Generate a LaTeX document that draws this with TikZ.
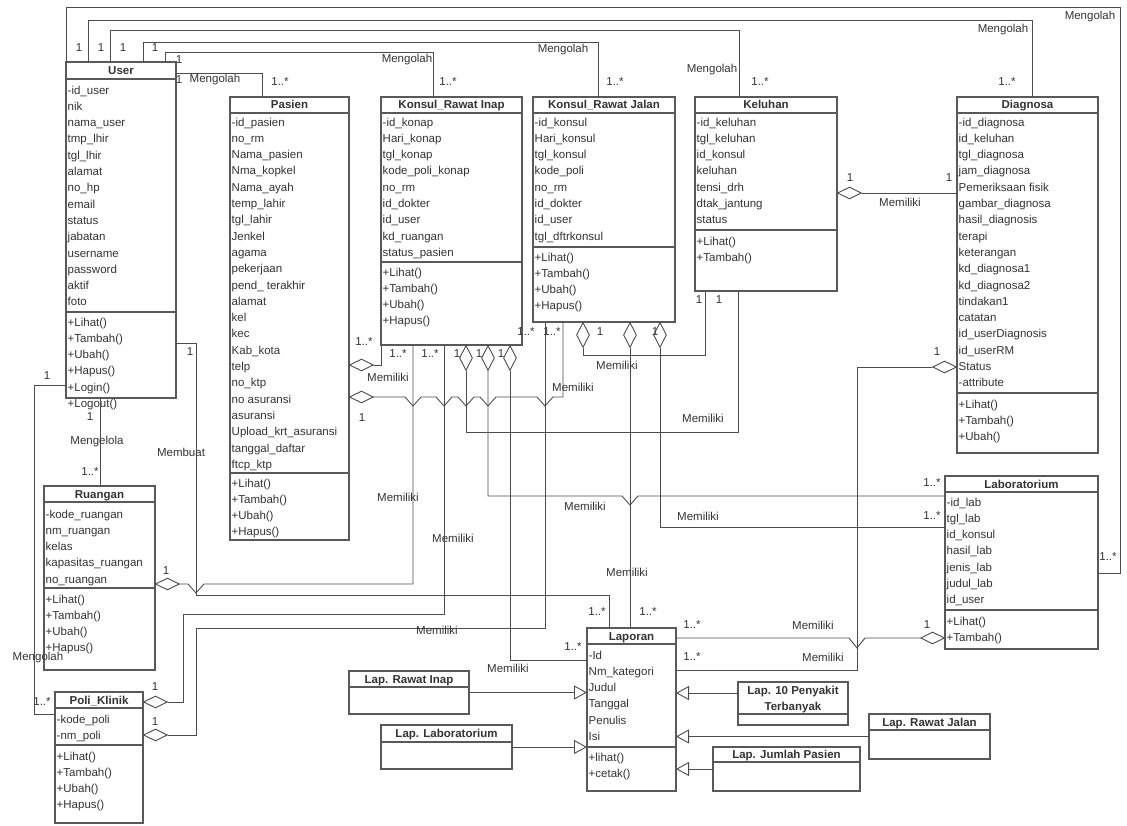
\documentclass[tikz,border=0pt]{standalone}
\usepackage{fontspec}
\setmainfont{Liberation Sans}
\usetikzlibrary{shapes.geometric,arrows.meta}

\begin{document}
\begin{tikzpicture}[x=1pt,y=-1pt,
    every node/.style={text=black!80},
    cls/.style={draw=black!65,line width=1.2pt,anchor=north west,inner sep=0,outer sep=0},
    sep/.style={draw=black!65,line width=1.2pt},
    ttl/.style={font=\fontsize{11.5}{14}\selectfont\bfseries,anchor=base,inner sep=0},
    attr/.style={font=\fontsize{11.5}{16.3}\selectfont,align=left,anchor=north west,inner sep=0},
    lbl/.style={font=\fontsize{11.5}{14}\selectfont,inner sep=0},
    assoc/.style={draw=black!70,line width=0.9pt},
    aggh/.style={diamond,draw=black!70,line width=0.9pt,fill=white,minimum width=24,minimum height=12,inner sep=0},
    aggv/.style={diamond,draw=black!70,line width=0.9pt,fill=white,minimum width=13,minimum height=25,inner sep=0,anchor=north},
    gen/.style={assoc,-{Triangle[open,length=13pt,width=14pt]}}]
    \useasboundingbox (0,0) rectangle (1127,826);

    % classes
    \node[cls,minimum width=110,minimum height=336] (user) at (66,62) {};
    \draw[sep] (user.west |- 0,79) -- (user.east |- 0,79);
    \draw[sep] (user.west |- 0,312) -- (user.east |- 0,312);
    \node[ttl] (userT) at (121,74.5) {User};
    \node[attr] (userA) at (67.5,85.5) {-id\_user\\nik\\nama\_user\\tmp\_lhir\\tgl\_lhir\\alamat\\no\_hp\\email\\status\\jabatan\\username\\password\\aktif\\foto};
    \node[attr] (userM) at (67.5,317.5) {+Lihat()\\+Tambah()\\+Ubah()\\+Hapus()\\+Login()\\+Logout()};

    \node[cls,minimum width=119,minimum height=443] (pasien) at (230,97) {};
    \draw[sep] (pasien.west |- 0,113) -- (pasien.east |- 0,113);
    \draw[sep] (pasien.west |- 0,473) -- (pasien.east |- 0,473);
    \node[ttl] (pasienT) at (289.5,109) {Pasien};
    \node[attr] (pasienA) at (231.5,117.5) {-id\_pasien\\no\_rm\\Nama\_pasien\\Nma\_kopkel\\Nama\_ayah\\temp\_lahir\\tgl\_lahir\\Jenkel\\agama\\pekerjaan\\pend\_ terakhir\\alamat\\kel\\kec\\Kab\_kota\\telp\\no\_ktp\\no asuransi\\asuransi\\Upload\_krt\_asuransi\\tanggal\_daftar\\ftcp\_ktp};
    \node[attr] (pasienM) at (231.5,478.5) {+Lihat()\\+Tambah()\\+Ubah()\\+Hapus()};

    \node[cls,minimum width=141,minimum height=248] (krinap) at (381,97) {};
    \draw[sep] (krinap.west |- 0,113) -- (krinap.east |- 0,113);
    \draw[sep] (krinap.west |- 0,262) -- (krinap.east |- 0,262);
    \node[ttl] (krinapT) at (451.5,109) {Konsul\_Rawat Inap};
    \node[attr] (krinapA) at (382.5,117.5) {-id\_konap\\Hari\_konap\\tgl\_konap\\kode\_poli\_konap\\no\_rm\\id\_dokter\\id\_user\\kd\_ruangan\\status\_pasien};
    \node[attr] (krinapM) at (382.5,267.5) {+Lihat()\\+Tambah()\\+Ubah()\\+Hapus()};

    \node[cls,minimum width=142,minimum height=225] (krjalan) at (533,97) {};
    \draw[sep] (krjalan.west |- 0,113) -- (krjalan.east |- 0,113);
    \draw[sep] (krjalan.west |- 0,247) -- (krjalan.east |- 0,247);
    \node[ttl] (krjalanT) at (604,109) {Konsul\_Rawat Jalan};
    \node[attr] (krjalanA) at (534.5,117.5) {-id\_konsul\\Hari\_konsul\\tgl\_konsul\\kode\_poli\\no\_rm\\id\_dokter\\id\_user\\tgl\_dftrkonsul};
    \node[attr] (krjalanM) at (534.5,252.5) {+Lihat()\\+Tambah()\\+Ubah()\\+Hapus()};

    \node[cls,minimum width=142,minimum height=194] (keluhan) at (695,97) {};
    \draw[sep] (keluhan.west |- 0,113) -- (keluhan.east |- 0,113);
    \draw[sep] (keluhan.west |- 0,230) -- (keluhan.east |- 0,230);
    \node[ttl] (keluhanT) at (766,109) {Keluhan};
    \node[attr] (keluhanA) at (696.5,117.5) {-id\_keluhan\\tgl\_keluhan\\id\_konsul\\keluhan\\tensi\_drh\\dtak\_jantung\\status};
    \node[attr] (keluhanM) at (696.5,236.5) {+Lihat()\\+Tambah()};

    \node[cls,minimum width=141,minimum height=356] (diagnosa) at (957,97) {};
    \draw[sep] (diagnosa.west |- 0,113) -- (diagnosa.east |- 0,113);
    \draw[sep] (diagnosa.west |- 0,393) -- (diagnosa.east |- 0,393);
    \node[ttl] (diagnosaT) at (1027.5,109) {Diagnosa};
    \node[attr] (diagnosaA) at (958.5,117.5) {-id\_diagnosa\\id\_keluhan\\tgl\_diagnosa\\jam\_diagnosa\\Pemeriksaan fisik\\gambar\_diagnosa\\hasil\_diagnosis\\terapi\\keterangan\\kd\_diagnosa1\\kd\_diagnosa2\\tindakan1\\catatan\\id\_userDiagnosis\\id\_userRM\\Status\\-attribute};
    \node[attr] (diagnosaM) at (958.5,399.5) {+Lihat()\\+Tambah()\\+Ubah()};

    \node[cls,minimum width=153,minimum height=173] (lab) at (945,476) {};
    \draw[sep] (lab.west |- 0,492) -- (lab.east |- 0,492);
    \draw[sep] (lab.west |- 0,610) -- (lab.east |- 0,610);
    \node[ttl] (labT) at (1021.5,488) {Laboratorium};
    \node[attr] (labA) at (946.5,497.5) {-id\_lab\\tgl\_lab\\id\_konsul\\hasil\_lab\\jenis\_lab\\judul\_lab\\id\_user};
    \node[attr] (labM) at (946.5,616.5) {+Lihat()\\+Tambah()};

    \node[cls,minimum width=111,minimum height=184] (ruangan) at (44,486) {};
    \draw[sep] (ruangan.west |- 0,502) -- (ruangan.east |- 0,502);
    \draw[sep] (ruangan.west |- 0,588) -- (ruangan.east |- 0,588);
    \node[ttl] (ruanganT) at (99.5,498) {Ruangan};
    \node[attr] (ruanganA) at (45.5,509.5) {-kode\_ruangan\\nm\_ruangan\\kelas\\kapasitas\_ruangan\\no\_ruangan};
    \node[attr] (ruanganM) at (45.5,594.5) {+Lihat()\\+Tambah()\\+Ubah()\\+Hapus()};

    \node[cls,minimum width=88,minimum height=131] (poli) at (55,692) {};
    \draw[sep] (poli.west |- 0,708) -- (poli.east |- 0,708);
    \draw[sep] (poli.west |- 0,745) -- (poli.east |- 0,745);
    \node[ttl] (poliT) at (99,704) {Poli\_Klinik};
    \node[attr] (poliA) at (56.5,714.5) {-kode\_poli\\-nm\_poli};
    \node[attr] (poliM) at (56.5,751.5) {+Lihat()\\+Tambah()\\+Ubah()\\+Hapus()};

    \node[cls,minimum width=89,minimum height=163] (laporan) at (587,628) {};
    \draw[sep] (laporan.west |- 0,644) -- (laporan.east |- 0,644);
    \draw[sep] (laporan.west |- 0,747) -- (laporan.east |- 0,747);
    \node[ttl] (laporanT) at (631.5,640) {Laporan};
    \node[attr] (laporanA) at (588.5,650.5) {-Id\\Nm\_kategori\\Judul\\Tanggal\\Penulis\\Isi};
    \node[attr] (laporanM) at (588.5,752.5) {+lihat()\\+cetak()};

    % report subclasses
    \node[cls,minimum width=120,minimum height=43] (laprinap) at (349,671) {};
    \draw[sep] (laprinap.west |- 0,687) -- (laprinap.east |- 0,687);
    \node[ttl] (laprinapT) at (409,683) {Lap. Rawat Inap};
    \node[cls,minimum width=131,minimum height=44] (laplab) at (381,725) {};
    \draw[sep] (laplab.west |- 0,742) -- (laplab.east |- 0,742);
    \node[ttl] (laplabT) at (446.5,737.5) {Lap. Laboratorium};
    \node[cls,minimum width=110,minimum height=43] (lap10) at (738,682) {};
    \draw[sep] (lap10.west |- 0,714) -- (lap10.east |- 0,714);
    \node[ttl,anchor=north,align=center,font=\fontsize{11.5}{16}\selectfont\bfseries] (lap10T) at (793,685.5) {Lap. 10 Penyakit\\Terbanyak};
    \node[cls,minimum width=121,minimum height=45] (laprjalan) at (869,714) {};
    \draw[sep] (laprjalan.west |- 0,730) -- (laprjalan.east |- 0,730);
    \node[ttl] (laprjalanT) at (929.5,726) {Lap. Rawat Jalan};
    \node[cls,minimum width=147,minimum height=44] (lapjumlah) at (713,747) {};
    \draw[sep] (lapjumlah.west |- 0,762) -- (lapjumlah.east |- 0,762);
    \node[ttl] (lapjumlahT) at (786.5,758.5) {Lap. Jumlah Pasien};

    % aggregation diamonds
    \node[aggh,anchor=west] (dPasA) at (pasien.east |- 0,365) {};
    \node[aggh,anchor=west] (dPasB) at (pasien.east |- 0,397) {};
    \node[aggh,anchor=west] (dKelR) at (keluhan.east |- 0,193) {};
    \node[aggh,anchor=east] (dDiaL) at (diagnosa.west |- 0,367) {};
    \node[aggh,anchor=east] (dLabL) at (lab.west |- 0,638) {};
    \node[aggh,anchor=west] (dRuaR) at (ruangan.east |- 0,584) {};
    \node[aggh,anchor=west] (dPolA) at (poli.east |- 0,702) {};
    \node[aggh,anchor=west] (dPolB) at (poli.east |- 0,735) {};
    \node[aggv] (dInA) at (krinap.south -| 466,0) {};
    \node[aggv] (dInB) at (krinap.south -| 488,0) {};
    \node[aggv] (dInC) at (krinap.south -| 510,0) {};
    \node[aggv] (dJalA) at (krjalan.south -| 583,0) {};
    \node[aggv] (dJalB) at (krjalan.south -| 630,0) {};
    \node[aggv] (dJalC) at (krjalan.south -| 660,0) {};

    % associations from User
    \draw[assoc] (user.north west) |- (1120,7) |- (lab.east |- 0,573);
    \draw[assoc] (user.north -| 88,0) |- (1032,20) -- (diagnosa.north -| 1032,0);
    \draw[assoc] (user.north -| 110,0) |- (739,30) -- (keluhan.north -| 739,0);
    \draw[assoc] (user.north -| 143,0) |- (598,42) -- (krjalan.north -| 598,0);
    \draw[assoc] (user.north -| 165,0) |- (433,52) -- (krinap.north -| 433,0);
    \draw[assoc] (user.east |- 0,73) -| (pasien.north -| 262,0);
    \draw[assoc] (user.south -| 100,0) -- (ruangan.north -| 100,0);
    \draw[assoc] (user.west |- 0,385) -- (34,385) |- (poli.west |- 0,714);
    \draw[assoc] (user.east |- 0,343) -| (196,595) -| (laporan.north -| 609,0);

    % Memiliki
    \draw[assoc] (dPasA.east) -| (krinap.south west);
    \draw[assoc] (dPasB.east) -- (405,397) -- (413,406) -- (421,397) -- (436,397) -- (444,406) -- (452,397)
        -- (458,397) -- (466,406) -- (474,397) -- (480,397) -- (488,406) -- (496,397)
        -- (537,397) -- (545,406) -- (553,397) -- (563,397) -- (krjalan.south -| 563,0);
    \draw[assoc] (dRuaR.east) -- (188,584) -- (196,593) -- (204,584) -| (krinap.south -| 413,0);
    \draw[assoc] (dPolA.east) -| (183,614) -| (krinap.south -| 444,0);
    \draw[assoc] (dPolB.east) -| (196,628) -| (krjalan.south -| 545,0);
    \draw[assoc] (dInA.south) |- (738,432) -- (keluhan.south -| 738,0);
    \draw[assoc] (dInB.south) |- (622,496) -- (630,505) -- (638,496) -- (lab.west |- 0,496);
    \draw[assoc] (dInC.south) |- (laporan.west |- 0,660);
    \draw[assoc] (dJalA.south) |- (705,355) -- (keluhan.south -| 705,0);
    \draw[assoc] (dJalB.south) -- (laporan.north -| 630,0);
    \draw[assoc] (dJalC.south) |- (lab.west |- 0,527);
    \draw[assoc] (dKelR.east) -- (diagnosa.west |- dKelR.east);
    \draw[assoc] (dDiaL.west) -| (857,670) -- (laporan.east |- 0,670);
    \draw[assoc] (dLabL.west) -- (865,638) -- (857,648) -- (849,638) -- (laporan.east |- 0,638);

    % generalisation
    \draw[gen] (laprinap.east) -- (laporan.west |- laprinap.east);
    \draw[gen] (laplab.east) -- (laporan.west |- laplab.east);
    \draw[gen] (lap10.west |- 0,693) -- (laporan.east |- 0,693);
    \draw[gen] (laprjalan.west) -- (laporan.east |- laprjalan.west);
    \draw[gen] (lapjumlah.west) -- (laporan.east |- lapjumlah.west);

    % role names
    \node[lbl] (r1) at (1090,17) {Mengolah};
    \node[lbl] (r2) at (1003,30) {Mengolah};
    \node[lbl] (r3) at (712,70) {Mengolah};
    \node[lbl] (r4) at (563,50) {Mengolah};
    \node[lbl] (r5) at (407,60) {Mengolah};
    \node[lbl] (r6) at (215,80) {Mengolah};
    \node[lbl] (r7) at (38,658) {Mengolah};
    \node[lbl] (r8) at (97,442) {Mengelola};
    \node[lbl] (r9) at (181,452) {Membuat};
    \node[lbl] (r10) at (388,377) {Memiliki};
    \node[lbl] (r11) at (573,387) {Memiliki};
    \node[lbl] (r12) at (617,365) {Memiliki};
    \node[lbl] (r13) at (703,418) {Memiliki};
    \node[lbl] (r14) at (398,497) {Memiliki};
    \node[lbl] (r15) at (585,506) {Memiliki};
    \node[lbl] (r16) at (698,516) {Memiliki};
    \node[lbl] (r17) at (453,538) {Memiliki};
    \node[lbl] (r18) at (627,572) {Memiliki};
    \node[lbl] (r19) at (437,630) {Memiliki};
    \node[lbl] (r20) at (508,668) {Memiliki};
    \node[lbl] (r21) at (900,202) {Memiliki};
    \node[lbl] (r22) at (813,625) {Memiliki};
    \node[lbl] (r23) at (823,657) {Memiliki};

    % multiplicities
    \node[lbl] (m1) at (79,48) {1};
    \node[lbl] (m2) at (101,48) {1};
    \node[lbl] (m3) at (123,48) {1};
    \node[lbl] (m4) at (155,48) {1};
    \node[lbl] (m5) at (179,60) {1};
    \node[lbl] (m6) at (179,80) {1};
    \node[lbl] (m7) at (280,82) {1..*};
    \node[lbl] (m8) at (448,82) {1..*};
    \node[lbl] (m9) at (615,82) {1..*};
    \node[lbl] (m10) at (760,82) {1..*};
    \node[lbl] (m11) at (1007,82) {1..*};
    \node[lbl] (m12) at (1108,557) {1..*};
    \node[lbl] (m13) at (190,352) {1};
    \node[lbl] (m14) at (47,376) {1};
    \node[lbl] (m15) at (90,417) {1};
    \node[lbl] (m16) at (90,472) {1..*};
    \node[lbl] (m17) at (42,702) {1..*};
    \node[lbl] (m18) at (364,342) {1..*};
    \node[lbl] (m19) at (362,418) {1};
    \node[lbl] (m20) at (398,354) {1..*};
    \node[lbl] (m21) at (430,354) {1..*};
    \node[lbl] (m22) at (457,354) {1};
    \node[lbl] (m23) at (479,354) {1};
    \node[lbl] (m24) at (501,354) {1};
    \node[lbl] (m25) at (526,332) {1..*};
    \node[lbl] (m26) at (552,332) {1..*};
    \node[lbl] (m27) at (600,332) {1};
    \node[lbl] (m28) at (655,332) {1};
    \node[lbl] (m29) at (699,300) {1};
    \node[lbl] (m30) at (719,300) {1};
    \node[lbl] (m31) at (850,178) {1};
    \node[lbl] (m32) at (949,178) {1};
    \node[lbl] (m33) at (937,352) {1};
    \node[lbl] (m34) at (932,483) {1..*};
    \node[lbl] (m35) at (932,516) {1..*};
    \node[lbl] (m36) at (927,625) {1};
    \node[lbl] (m37) at (166,571) {1};
    \node[lbl] (m38) at (155,687) {1};
    \node[lbl] (m39) at (155,722) {1};
    \node[lbl] (m40) at (597,612) {1..*};
    \node[lbl] (m41) at (648,612) {1..*};
    \node[lbl] (m42) at (573,647) {1..*};
    \node[lbl] (m43) at (692,625) {1..*};
    \node[lbl] (m44) at (692,657) {1..*};
\end{tikzpicture}
\end{document}
